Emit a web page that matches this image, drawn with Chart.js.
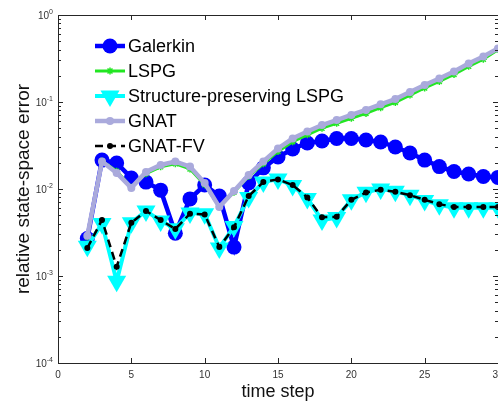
<!DOCTYPE html>
<html>
<head>
<meta charset="utf-8">
<script src="https://cdn.jsdelivr.net/npm/chart.js@4.4.1/dist/chart.umd.min.js"></script>
<style>
  html, body { margin:0; padding:0; background:#fff; overflow:hidden; width:498px; height:403px }
  #wrap { position:absolute; left:0; top:0; width:530px; height:403px }
</style>
</head>
<body>
<div id="wrap"><canvas id="c" width="530" height="403"></canvas></div>
<script>
  // time steps on the x axis
  const steps = [2,3,4,5,6,7,8,9,10,11,12,13,14,15,16,17,18,19,20,21,22,23,24,25,26,27,28,29,30];

  const galerkin = [2.7e-3,2.15e-2,1.99e-2,1.34e-2,1.2e-2,9.7e-3,3.1e-3,7.7e-3,1.11e-2,8.3e-3,2.15e-3,
    1.17e-2,1.75e-2,2.33e-2,2.88e-2,3.38e-2,3.56e-2,3.8e-2,3.8e-2,3.66e-2,3.47e-2,3.04e-2,2.59e-2,
    2.15e-2,1.81e-2,1.59e-2,1.49e-2,1.39e-2,1.36e-2];
  const lspg = [2.8e-3,2.1e-2,1.6e-2,1.05e-2,1.5e-2,1.8e-2,1.95e-2,1.7e-2,1.12e-2,6.3e-3,9.2e-3,
    1.4e-2,1.95e-2,2.7e-2,3.5e-2,4.2e-2,5.0e-2,5.7e-2,6.5e-2,7.4e-2,8.6e-2,0.099,0.12,
    0.145,0.172,0.207,0.257,0.31,0.40];
  const spLspg = [2.2e-3,4.0e-3,8.7e-4,4.1e-3,5.6e-3,4.3e-3,3.5e-3,5.3e-3,5.2e-3,2.1e-3,3.7e-3,
    8.0e-3,1.2e-2,1.3e-2,1.1e-2,7.8e-3,4.4e-3,4.7e-3,7.5e-3,9.2e-3,1.0e-2,9.4e-3,8.5e-3,
    7.4e-3,6.6e-3,6.1e-3,6.1e-3,6.1e-3,6.1e-3];
  const gnat = [2.9e-3,2.07e-2,1.53e-2,1.03e-2,1.57e-2,1.89e-2,2.07e-2,1.81e-2,1.17e-2,6.2e-3,9.5e-3,
    1.45e-2,2.07e-2,2.92e-2,3.8e-2,4.58e-2,5.44e-2,6.2e-2,7.1e-2,8.1e-2,9.4e-2,0.108,0.13,
    0.157,0.186,0.224,0.277,0.333,0.412];
  const gnatFv = [2.1e-3,4.4e-3,1.28e-3,4.1e-3,5.6e-3,4.4e-3,3.47e-3,5.2e-3,5.1e-3,2.15e-3,3.63e-3,
    8.3e-3,1.2e-2,1.29e-2,1.11e-2,8.0e-3,4.73e-3,4.8e-3,7.5e-3,9.1e-3,9.8e-3,9.3e-3,8.5e-3,
    7.5e-3,6.7e-3,6.2e-3,6.2e-3,6.2e-3,6.2e-3];

  const xTicks = [0,5,10,15,20,25,30];
  const yDecades = [-4,-3,-2,-1,0];

  const FONT = '"Liberation Sans", Helvetica, Arial, sans-serif';
  const AX = '#262626';

  const pts = vals => vals.map((v, i) => ({ x: steps[i], y: v }));

  const datasets = [
    { label:'Galerkin', data:pts(galerkin), borderColor:'#0000ff', backgroundColor:'#0000ff',
      borderWidth:4.5, pointRadius:7.5, pointStyle:'circle', pointBorderWidth:0, order:5 },
    { label:'LSPG', data:pts(lspg), borderColor:'#22e622', backgroundColor:'#22e622',
      borderWidth:3, pointRadius:3.5, pointStyle:'star', pointBorderWidth:1.5, order:4 },
    { label:'Structure-preserving LSPG', data:pts(spLspg), borderColor:'#00ffff', backgroundColor:'#00ffff',
      borderWidth:4, pointRadius:11, pointStyle:'triangle', pointRotation:180, pointBorderWidth:0, order:3 },
    { label:'GNAT', data:pts(gnat), borderColor:'#aaaadc', backgroundColor:'#aaaadc',
      borderWidth:4.5, pointRadius:4, pointStyle:'circle', pointBorderWidth:0, order:2 },
    { label:'GNAT-FV', data:pts(gnatFv), borderColor:'#000', backgroundColor:'#000',
      borderWidth:2.5, borderDash:[8,5], pointRadius:3, pointStyle:'circle', pointBorderWidth:0, order:1 },
  ];

  // box, inward ticks and 10^n labels like the matlab figure
  const axesBox = {
    id: 'axesBox',
    afterDraw(chart) {
      const { ctx, chartArea: a, scales: { x, y } } = chart;
      ctx.save();
      ctx.strokeStyle = AX;
      ctx.lineWidth = 1;
      ctx.strokeRect(Math.round(a.left) + .5, Math.round(a.top) + .5, Math.round(a.right - a.left), Math.round(a.bottom - a.top));
      ctx.beginPath();
      xTicks.forEach(t => {
        const px = Math.round(x.getPixelForValue(t)) + .5;
        ctx.moveTo(px, a.bottom); ctx.lineTo(px, a.bottom - 5);
        ctx.moveTo(px, a.top); ctx.lineTo(px, a.top + 5);
      });
      yDecades.forEach(e => {
        for (let m = 1; m <= 9; m++) {
          if (e === 0 && m > 1) break;
          const py = Math.round(y.getPixelForValue(m * Math.pow(10, e))) + .5;
          const len = m === 1 ? 5 : 3;
          ctx.moveTo(a.left, py); ctx.lineTo(a.left + len, py);
          ctx.moveTo(a.right, py); ctx.lineTo(a.right - len, py);
        }
      });
      ctx.stroke();
      ctx.fillStyle = '#333';
      ctx.textBaseline = 'alphabetic';
      yDecades.forEach(e => {
        const py = y.getPixelForValue(Math.pow(10, e));
        const sup = String(e);
        ctx.font = '7px ' + FONT;
        const sw = ctx.measureText(sup).width;
        ctx.textAlign = 'right';
        ctx.fillText(sup, a.left - 5, py - 1);
        ctx.font = '10px ' + FONT;
        ctx.fillText('10', a.left - 5 - sw, py + 4);
      });
      ctx.restore();
    }
  };

  // legend inside the axes, top-left, no frame
  const innerLegend = {
    id: 'innerLegend',
    afterDatasetsDraw(chart) {
      const { ctx } = chart;
      const rows = [46, 71, 96, 121, 146];
      ctx.save();
      chart.data.datasets.forEach((ds, i) => {
        const yy = rows[i];
        ctx.strokeStyle = ds.borderColor;
        ctx.lineWidth = ds.borderWidth;
        ctx.setLineDash(ds.borderDash || []);
        ctx.beginPath(); ctx.moveTo(95, yy); ctx.lineTo(125, yy); ctx.stroke();
        ctx.setLineDash([]);
        ctx.fillStyle = ds.backgroundColor;
        ctx.strokeStyle = ds.borderColor;
        ctx.lineWidth = ds.pointBorderWidth;
        Chart.helpers.drawPoint(ctx, {
          pointStyle: ds.pointStyle, rotation: ds.pointRotation || 0,
          radius: ds.pointRadius, borderWidth: ds.pointBorderWidth
        }, 110, yy);
        ctx.fillStyle = '#000';
        ctx.font = '18px ' + FONT;
        ctx.textAlign = 'left';
        ctx.textBaseline = 'middle';
        ctx.fillText(ds.label, 128, yy + 1);
      });
      ctx.restore();
    }
  };

  new Chart(document.getElementById('c'), {
    type: 'line',
    data: { datasets },
    options: {
      responsive: false,
      animation: false,
      layout: { padding: { top: 15, right: 32, left: 0, bottom: 0 } },
      plugins: { legend: { display: false }, tooltip: { enabled: false } },
      elements: { line: { tension: 0 } },
      scales: {
        x: {
          type: 'linear', min: 0, max: 30,
          grid: { display: false, drawTicks: false }, border: { display: false },
          ticks: { stepSize: 5, padding: 6, color: '#333', font: { size: 10, family: FONT } },
          title: { display: true, text: 'time step', color: '#111', font: { size: 18, family: FONT }, padding: { top: 0, bottom: 0 } },
          afterFit: s => { s.height = 40; }
        },
        y: {
          type: 'logarithmic', min: 1e-4, max: 1,
          grid: { display: false, drawTicks: false }, border: { display: false },
          ticks: { display: false },
          title: { display: true, text: 'relative state-space error', color: '#111', font: { size: 19, family: FONT }, padding: { top: 12, bottom: 0 } },
          afterFit: s => { s.width = 58; }
        }
      }
    },
    plugins: [axesBox, innerLegend]
  });
</script>
</body>
</html>
